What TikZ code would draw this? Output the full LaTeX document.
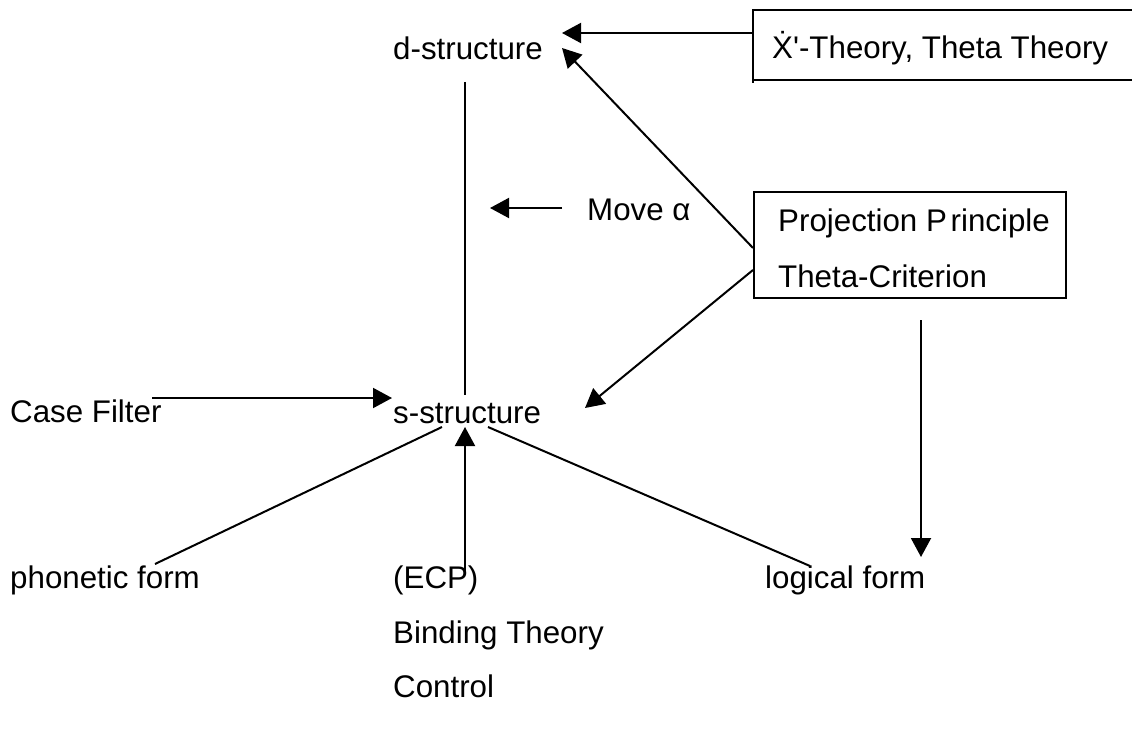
\documentclass[tikz,border=0pt]{standalone}
\usepackage{fontspec}
\setmainfont{Liberation Sans}
\usetikzlibrary{arrows.meta}
\begin{document}
\begin{tikzpicture}[x=1pt,y=-1pt,
  lbl/.style={anchor=base west,inner sep=0pt,font=\fontsize{31.3}{37}\selectfont},
  ln/.style={line width=2pt},
  arr/.style={line width=2pt,-{Triangle[length=19pt,width=20pt]}},
  boxline/.style={line width=2.4pt}]
\useasboundingbox (0,0) rectangle (1132,730);
% texts
\node[lbl] (ds) at (393,60) {d-structure};
\node[lbl] (xt) at (772,59) {\.{X}\textquotesingle-Theory, Theta Theory};
\node[lbl] (mv) at (587,221) {Move α};
\node[lbl] (pp) at (778,231) {Projection P\kern0.12em rinciple};
\node[lbl] (tc) at (778,287) {Theta-Criterion};
\node[lbl] (cf) at (10,422) {Case Filter};
\node[lbl] (ss) at (393,423) {s-structure};
\node[lbl] (pf) at (10,588) {phonetic form};
\node[lbl] (ecp) at (393,588) {(ECP)};
\node[lbl] (bt) at (393,643) {Binding Theory};
\node[lbl] (ct) at (393,697) {Control};
\node[lbl] (lf) at (765,588) {logical form};
% boxes
\draw[boxline] (1132,10) -- (753,10) -- (753,83);
\draw[boxline] (753,80) -- (1132,80);
\node[draw,boxline,anchor=north west,minimum width=312pt,minimum height=106pt,inner sep=0pt] (pbox) at (753,191) {};
% coordinates
\coordinate (xl) at (753,33);
\coordinate (dsr) at (562,33);
\coordinate (dsd) at (562,48);
\coordinate (pb1) at (753,248);
\coordinate (pb2) at (753,270);
\coordinate (ssr) at (585,408);
\coordinate (dsb) at (465,82);
\coordinate (sst) at (465,395);
\coordinate (mvl) at (562,208);
\coordinate (vl) at (490,208);
\coordinate (cfr) at (152,398);
\coordinate (ssl) at (392,398);
\coordinate (ssbl) at (442,427);
\coordinate (ssbr) at (488,427);
\coordinate (ssb) at (465,427);
\coordinate (pft) at (155,564);
\coordinate (lft) at (810,566);
\coordinate (ecpt) at (465,572);
\coordinate (pbb) at (921,320);
\coordinate (lfa) at (921,557);
% connectors
\draw[arr] (xl) -- (dsr);
\draw[arr] (pb1) -- (dsd);
\draw[arr] (pb2) -- (ssr);
\draw[ln] (dsb) -- (sst);
\draw[arr] (mvl) -- (vl);
\draw[arr] (cfr) -- (ssl);
\draw[ln] (ssbl) -- (pft);
\draw[ln] (ssbr) -- (lft);
\draw[arr] (ecpt) -- (ssb);
\draw[arr] (pbb) -- (lfa);
\end{tikzpicture}
\end{document}
